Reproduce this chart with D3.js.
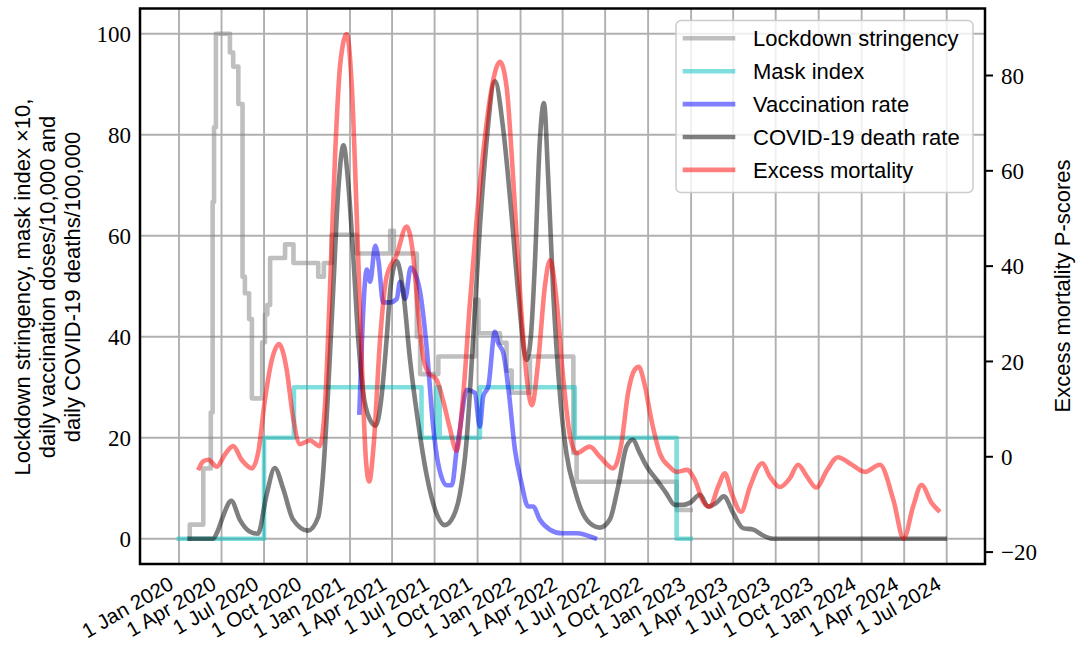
<!DOCTYPE html>
<html><head><meta charset="utf-8">
<script src="https://cdn.jsdelivr.net/npm/d3@7"></script>
<style>
html,body{margin:0;padding:0;background:#fff;}
svg{display:block;}
</style></head><body>
<svg id="chart" width="1078" height="646"></svg>
<script>
// ---------------- data ----------------
const xTickDates = ["2020-01-01","2020-04-01","2020-07-01","2020-10-01","2021-01-01","2021-04-01","2021-07-01","2021-10-01","2022-01-01","2022-04-01","2022-07-01","2022-10-01","2023-01-01","2023-04-01","2023-07-01","2023-10-01","2024-01-01","2024-04-01","2024-07-01"];
const xTickLabels = ["1 Jan 2020","1 Apr 2020","1 Jul 2020","1 Oct 2020","1 Jan 2021","1 Apr 2021","1 Jul 2021","1 Oct 2021","1 Jan 2022","1 Apr 2022","1 Jul 2022","1 Oct 2022","1 Jan 2023","1 Apr 2023","1 Jul 2023","1 Oct 2023","1 Jan 2024","1 Apr 2024","1 Jul 2024"];
const leftTicks = [0,20,40,60,80,100];
const rightTicks = [-20,0,20,40,60,80];

const lockdown = [["2020-01-23",0],["2020-01-24",2.8],["2020-02-22",13.9],["2020-03-09",25],["2020-03-13",66.7],["2020-03-16",81.5],["2020-03-20",100],["2020-04-19",96.3],["2020-04-26",93.5],["2020-05-07",86.1],["2020-05-16",51.9],["2020-05-21",48.6],["2020-05-30",43.5],["2020-06-05",27.8],["2020-06-27",38.9],["2020-07-03",44.4],["2020-07-08",46.3],["2020-07-14",55.6],["2020-08-15",58.3],["2020-09-02",54.6],["2020-10-25",51.9],["2020-11-06",54.6],["2020-11-23",60.2],["2021-01-15",56.5],["2021-03-28",61],["2021-04-05",56.5],["2021-05-24",40],["2021-05-31",32.6],["2021-07-09",36.1],["2021-09-26",47.3],["2021-10-03",40.7],["2021-11-18",38.8],["2021-12-02",33.3],["2021-12-13",28.9],["2022-01-21",36.1],["2022-04-24",17],["2022-05-01",11.3],["2022-12-01",5.7],["2022-12-31",5.7]];

const maskIndex10 = [["2020-01-01",0],["2020-07-01",20],["2020-09-03",30],["2021-06-03",20],["2021-07-05",30],["2021-07-12",20],["2021-10-06",30],["2022-04-27",20],["2022-12-01",0],["2022-12-31",0]];

const vaccination = [["2021-01-21",25],["2021-02-06",53.3],["2021-02-13",50.9],["2021-02-24",58],["2021-03-03",55],["2021-03-13",46.8],["2021-03-28",46.8],["2021-04-11",47.5],["2021-04-18",50.9],["2021-04-29",47.5],["2021-05-11",53.7],["2021-05-24",51.6],["2021-05-31",48.9],["2021-06-14",37.9],["2021-06-28",22.2],["2021-07-09",14.7],["2021-07-27",10.6],["2021-08-07",10.6],["2021-08-17",17.4],["2021-08-24",21.6],["2021-09-08",29.5],["2021-09-25",28.9],["2021-10-06",22.2],["2021-10-13",28.2],["2021-10-24",30.2],["2021-11-07",41],["2021-11-14",38.8],["2021-11-25",36.8],["2021-12-07",28.9],["2021-12-20",17.6],["2022-01-03",11],["2022-01-17",6.4],["2022-01-28",6.4],["2022-02-11",3.8],["2022-03-05",1.8],["2022-03-30",1.1],["2022-05-01",1.1],["2022-06-09",0.1]];

const deathRate = [["2020-01-24",0],["2020-03-14",0],["2020-03-25",1.8],["2020-04-04",4.4],["2020-04-22",7.5],["2020-05-10",3.8],["2020-06-01",1.4],["2020-06-18",1.0],["2020-07-06",8.5],["2020-07-24",14],["2020-08-11",9.9],["2020-09-01",3.8],["2020-10-03",1.6],["2020-10-25",4.3],["2020-11-04",12.4],["2020-11-15",29.1],["2020-11-26",49.2],["2020-12-07",69.2],["2020-12-18",77.9],["2020-12-28",70.6],["2021-01-08",55.9],["2021-01-19",39.1],["2021-01-29",29.1],["2021-02-12",23.7],["2021-02-25",22.4],["2021-03-09",27.8],["2021-03-20",39.1],["2021-03-29",50],["2021-04-11",55],["2021-04-25",48.8],["2021-05-09",35.8],["2021-05-27",22.9],["2021-06-14",12.6],["2021-07-02",5.8],["2021-07-23",2.7],["2021-08-10",4.4],["2021-08-24",8.8],["2021-09-07",18.9],["2021-09-21",38.8],["2021-10-06",61.8],["2021-10-20",78.4],["2021-11-07",90.6],["2021-11-25",81],["2021-12-13",63.8],["2021-12-27",48.6],["2022-01-14",35.4],["2022-01-23",40],["2022-02-01",55.2],["2022-02-11",78.4],["2022-02-20",86.3],["2022-03-01",71.7],["2022-03-12",48.6],["2022-03-26",28.9],["2022-04-09",17],["2022-04-27",9.7],["2022-05-11",5.7],["2022-05-29",3.1],["2022-06-20",2.2],["2022-07-11",3.8],["2022-07-29",10.4],["2022-08-16",18.3],["2022-08-29",19.6],["2022-09-13",17],["2022-09-28",14.3],["2022-10-19",11.7],["2022-11-09",9],["2022-11-27",6.7],["2022-12-15",6.7],["2022-12-29",7.1],["2023-01-20",8.7],["2023-02-06",6.4],["2023-02-24",7.1],["2023-03-12",8.4],["2023-04-01",5.1],["2023-04-22",2.1],["2023-05-14",1.8],["2023-06-01",0.8],["2023-06-26",0],["2024-06-27",0]];

const excessMortality = [["2020-02-13",-2.4],["2020-02-22",-0.95],["2020-03-04",-0.63],["2020-03-22",-2.1],["2020-04-08",0.43],["2020-04-26",2.23],["2020-05-14",-0.63],["2020-06-05",-2.43],["2020-06-19",1.17],["2020-07-03",11.98],["2020-07-17",20.03],["2020-08-02",23.64],["2020-08-18",18.55],["2020-09-01",8.38],["2020-09-16",2.65],["2020-10-07",3.4],["2020-10-28",2.23],["2020-11-08",10.07],["2020-11-19",34.87],["2020-11-30",63.17],["2020-12-11",82.35],["2020-12-25",88.71],["2021-01-05",77.37],["2021-01-16",48.97],["2021-01-26",20.67],["2021-02-04",-0.63],["2021-02-11",-5.19],["2021-02-21",2.97],["2021-03-06",24.17],["2021-03-20",37.63],["2021-04-11",42.4],["2021-05-02",48.33],["2021-05-16",42.4],["2021-05-27",30.1],["2021-06-07",20.67],["2021-06-19",17.49],["2021-07-05",16.22],["2021-07-19",11.87],["2021-08-02",6.26],["2021-08-17",1.28],["2021-08-31",12.62],["2021-09-14",31.48],["2021-09-29",49.71],["2021-10-13",63.7],["2021-10-27",74.83],["2021-11-18",82.88],["2021-12-02",77.69],["2021-12-16",58.72],["2021-12-31",34.24],["2022-01-14",16.75],["2022-01-25",10.81],["2022-02-08",20.25],["2022-02-22",35.72],["2022-03-05",41.23],["2022-03-19",32.86],["2022-04-02",16.75],["2022-04-16",4.88],["2022-05-01",0.75],["2022-05-29",2.12],["2022-06-20",0],["2022-07-18",-2.43],["2022-08-05",2.87],["2022-08-19",13.36],["2022-09-02",18.23],["2022-09-11",18.87],["2022-09-23",15.37],["2022-10-08",7.74],["2022-10-26",0.75],["2022-11-16",-2.12],["2022-12-01",-3.17],["2022-12-23",-2.75],["2023-01-09",-4.87],["2023-01-27",-9.43],["2023-02-10",-10.49],["2023-02-28",-6.25],["2023-03-14",-3.49],["2023-03-29",-7.73],["2023-04-18",-11.55],["2023-05-07",-6.25],["2023-06-02",-1.37],["2023-06-19",-4.23],["2023-07-10",-6.35],["2023-07-31",-4.55],["2023-08-18",-1.69],["2023-09-05",-4.0],["2023-09-26",-6.46],["2023-10-18",-2.96],["2023-11-11",-0.1],["2023-12-11",-1.69],["2024-01-08",-3.17],["2024-02-09",-1.69],["2024-03-09",-9.11],["2024-03-31",-17.16],["2024-04-20",-10.49],["2024-05-08",-5.93],["2024-05-30",-9.75],["2024-06-13",-11.23]];

const seriesNames = ["Lockdown stringency","Mask index","Vaccination rate","COVID-19 death rate","Excess mortality"];
const seriesColors = ["#808080","#00bfbf","#0000ff","#000000","#ff0000"];

// ---------------- layout ----------------
const plot = {left:140, right:985, top:8.5, bottom:564};
const parse = d3.utcParse("%Y-%m-%d");
const x = d3.scaleUtc().domain([parse("2020-01-01"), parse("2024-07-01")]).range([179, 946.7]);
const yL = d3.scaleLinear().domain([-5,105]).range([plot.bottom, plot.top]);
const yR = d3.scaleLinear().domain([-22.5,94.06]).range([plot.bottom, plot.top]);

const svg = d3.select("#chart");
const SANS = '"Liberation Sans", Arial, sans-serif';
const SERIF = '"Liberation Serif", "Times New Roman", serif';
const LW = 4.6;

// grid
const grid = svg.append("g").attr("stroke","#b0b0b0").attr("stroke-width",1.9);
grid.selectAll("line.v").data(xTickDates).join("line").attr("class","v")
  .attr("x1",d=>x(parse(d))).attr("x2",d=>x(parse(d)))
  .attr("y1",plot.top).attr("y2",plot.bottom);
grid.selectAll("line.h").data(leftTicks).join("line").attr("class","h")
  .attr("x1",plot.left).attr("x2",plot.right)
  .attr("y1",d=>yL(d)).attr("y2",d=>yL(d));

// lines
function drawLine(data, yScale, curve, color){
  const gen = d3.line().x(d=>x(parse(d[0]))).y(d=>yScale(d[1])).curve(curve);
  svg.append("path").datum(data).attr("d",gen)
    .attr("fill","none").attr("stroke",color).attr("stroke-opacity",0.5)
    .attr("stroke-width",LW).attr("stroke-linejoin","round").attr("stroke-linecap","square");
}
drawLine(lockdown, yL, d3.curveStepAfter, seriesColors[0]);
drawLine(maskIndex10, yL, d3.curveStepAfter, seriesColors[1]);
drawLine(vaccination, yL, d3.curveMonotoneX, seriesColors[2]);
drawLine(deathRate, yL, d3.curveMonotoneX, seriesColors[3]);
drawLine(excessMortality, yR, d3.curveMonotoneX, seriesColors[4]);

// frame
svg.append("rect").attr("x",plot.left).attr("y",plot.top)
  .attr("width",plot.right-plot.left).attr("height",plot.bottom-plot.top)
  .attr("fill","none").attr("stroke","#000").attr("stroke-width",2.5);

// left tick labels
svg.append("g").selectAll("text").data(leftTicks).join("text")
  .attr("x",131).attr("y",d=>yL(d)).attr("dy","0.35em")
  .attr("text-anchor","end").attr("font-family",SERIF).attr("font-size",23)
  .text(d=>d);

// right ticks
const rg = svg.append("g");
rg.selectAll("line").data(rightTicks).join("line")
  .attr("x1",plot.right).attr("x2",plot.right+8)
  .attr("y1",d=>yR(d)).attr("y2",d=>yR(d))
  .attr("stroke","#000").attr("stroke-width",2);
rg.selectAll("text").data(rightTicks).join("text")
  .attr("x",1001).attr("y",d=>yR(d)).attr("dy","0.35em")
  .attr("font-family",SERIF).attr("font-size",23)
  .text(d=> d<0 ? "\u2212"+Math.abs(d) : d);

// x tick labels
svg.append("g").selectAll("text").data(xTickDates).join("text")
  .attr("transform",d=>`translate(${x(parse(d))-4},588) rotate(-30)`)
  .attr("text-anchor","end").attr("font-family",SANS).attr("font-size",20.5)
  .text((d,i)=>xTickLabels[i]);

// axis labels
const leftLabel = ["Lockdown stringency, mask index \u00d710,","daily vaccination doses/10,000 and","daily COVID-19 deaths/100,000"];
svg.append("g").selectAll("text").data(leftLabel).join("text")
  .attr("transform",(d,i)=>`translate(${29.5+i*25},287) rotate(-90)`)
  .attr("text-anchor","middle").attr("font-family",SANS).attr("font-size",22)
  .text(d=>d);
svg.append("text").attr("transform","translate(1070,286) rotate(-90)")
  .attr("text-anchor","middle").attr("font-family",SANS).attr("font-size",22)
  .text("Excess mortality P-scores");

// legend
const lg = svg.append("g");
lg.append("rect").attr("x",676).attr("y",20.5).attr("width",297).attr("height",172).attr("rx",5)
  .attr("fill","#fff").attr("fill-opacity",0.8).attr("stroke","#cccccc").attr("stroke-width",1.5);
seriesNames.forEach((name,i)=>{
  const cy = 38.3 + i*32.9;
  lg.append("line").attr("x1",685).attr("x2",733).attr("y1",cy).attr("y2",cy)
    .attr("stroke",seriesColors[i]).attr("stroke-opacity",0.5).attr("stroke-width",LW).attr("stroke-linecap","square");
  lg.append("text").attr("x",753).attr("y",cy).attr("dy","0.36em")
    .attr("font-family",SANS).attr("font-size",22).text(name);
});
</script>
</body></html>
